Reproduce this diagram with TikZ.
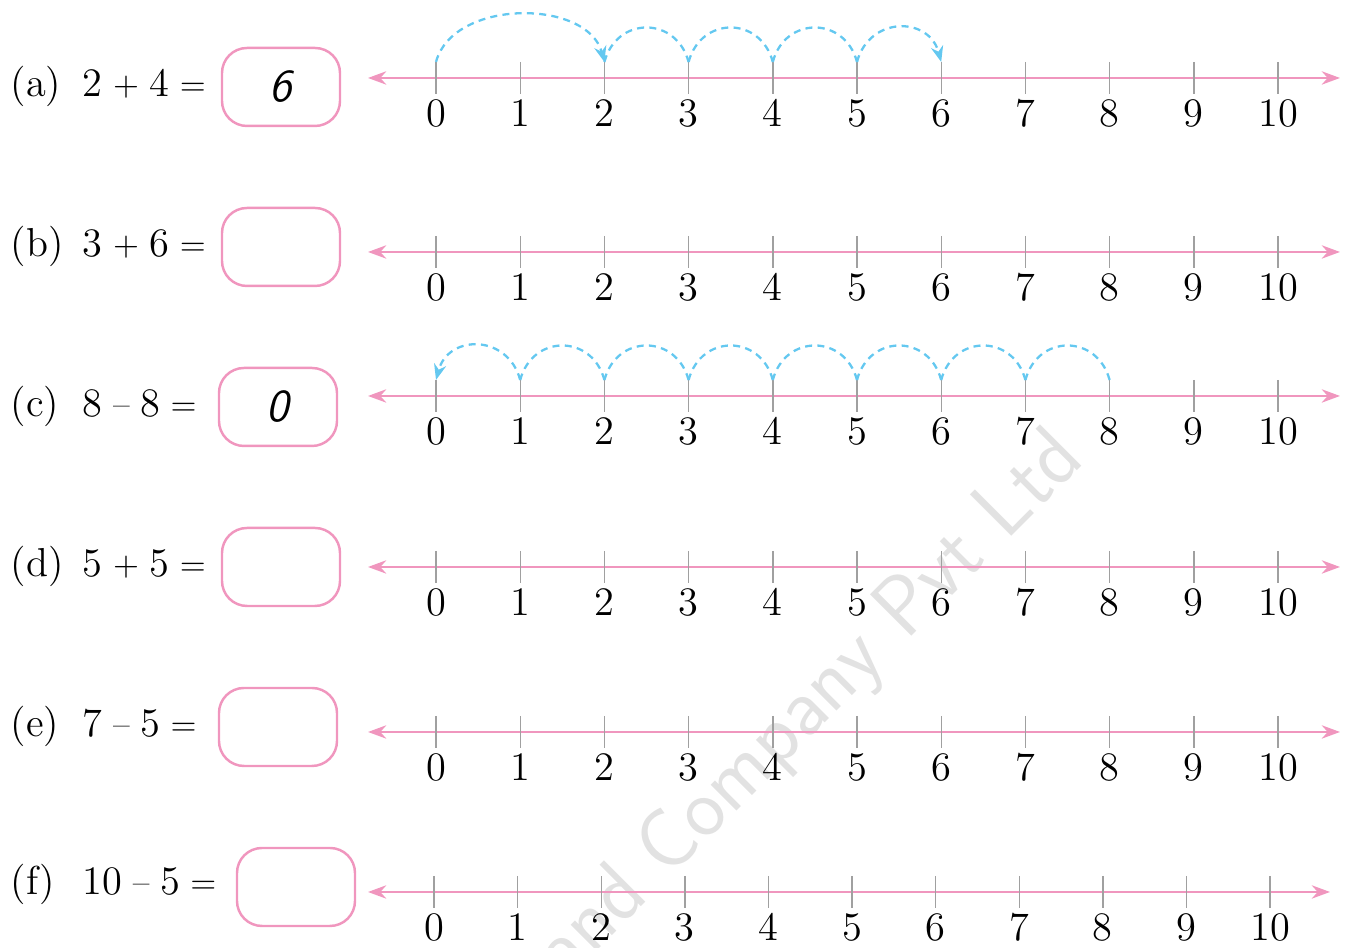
\documentclass[tikz,border=0pt]{standalone}
\usepackage{xcolor}
\usepackage{tikz}
\usetikzlibrary{arrows.meta,positioning}

\definecolor{linepink}{RGB}{240,150,190}
\definecolor{hopblue}{RGB}{100,200,240}
\definecolor{tickgray}{RGB}{160,160,160}
\definecolor{wmgray}{RGB}{226,226,226}
% small operator with even spacing
\newcommand{\opsp}[1]{\hspace{3pt}\raisebox{0.5pt}{\fontsize{9.5}{10}\selectfont #1}\hspace{3pt}}

\tikzset{
  axisline/.style={linepink, line width=0.65pt,
    {Stealth[length=5.2pt,width=3.8pt]}-{Stealth[length=5.2pt,width=3.8pt]}},
  tickmark/.style={tickgray, line width=0.4pt},
  hop/.style={hopblue, line width=0.65pt, dash pattern=on 2pt off 1.5pt},
  hoptip/.style={-{Stealth[length=4.5pt,width=3.5pt]}},
  ansbox/.style={draw=linepink, line width=0.7pt, rounded corners=0.25cm,
    minimum width=1.18cm, minimum height=0.78cm, font=\fontsize{13}{15}\sffamily\slshape},
  ticklbl/.style={font=\fontsize{11.5}{13}\selectfont, inner sep=0pt},
  eqtext/.style={font=\fontsize{11.5}{13}\selectfont, inner sep=0pt, anchor=base west},
}

\begin{document}
\begin{tikzpicture}
\useasboundingbox (0,0) rectangle (13.45,9.48);

% Watermark
\node[rotate=45, text=wmgray, font=\fontsize{24}{26}\sffamily, anchor=base east]
  (wm) at (10.95,4.95) {and Company Pvt Ltd};

% Rows: letter/label/sum/axis y/text baseline/box x/box y/answer/first tick/step/right tip
\foreach \r/\lbl/\eq/\ay/\ey/\bx/\by/\ans/\xs/\dx/\xe in {
  a/(a)/{2\opsp{+}4\opsp{=}}/8.70/8.51/2.81/8.61/6/4.36/0.842/13.40,
  b/(b)/{3\opsp{+}6\opsp{=}}/6.96/6.91/2.81/7.01//4.36/0.842/13.40,
  c/(c)/{8\opsp{--}8\opsp{=}}/5.52/5.31/2.78/5.41/0/4.36/0.842/13.40,
  d/(d)/{5\opsp{+}5\opsp{=}}/3.81/3.71/2.81/3.81//4.36/0.842/13.40,
  e/(e)/{7\opsp{--}5\opsp{=}}/2.16/2.11/2.78/2.21//4.36/0.842/13.40,
  f/(f)/{10\opsp{--}5\opsp{=}}/0.56/0.53/2.96/0.61//4.34/0.836/13.30}{
  % question and answer box
  \node[eqtext] (\r-lbl) at (0.10,\ey) {\lbl};
  \node[eqtext] (\r-eq) at (0.82,\ey) {\eq};
  \node[ansbox] (\r-box) at (\bx,\by) {\ans};
  % number line
  \coordinate (\r-left) at (3.68,\ay);
  \coordinate (\r-right) at (\xe,\ay);
  \draw[axisline] (\r-left) -- (\r-right);
  \foreach \i in {0,...,10}{
    \coordinate (\r-\i) at ({\xs+\i*\dx},{\ay+0.16});
    \draw[tickmark] (\r-\i) -- ++(0,-0.32);
    \node[ticklbl, anchor=base] (\r-n\i) at ({\xs+\i*\dx},{\ay-0.49}) {\i};
  }
}

% Hops for (a): 2 then four steps of 1
\draw[hop,hoptip] (a-0) to[out=75,in=105,looseness=1.0] (a-2);
\foreach \i/\j in {2/3,3/4,4/5}
  \draw[hop] (a-\i) to[out=75,in=105,looseness=1.45] (a-\j);
\draw[hop,hoptip] (a-5) to[out=75,in=105,looseness=1.45] (a-6);

% Hops for (c): eight steps back
\foreach \i/\j in {8/7,7/6,6/5,5/4,4/3,3/2,2/1}
  \draw[hop] (c-\i) to[out=105,in=75,looseness=1.45] (c-\j);
\draw[hop,hoptip] (c-1) to[out=105,in=75,looseness=1.45] (c-0);
\end{tikzpicture}
\end{document}
